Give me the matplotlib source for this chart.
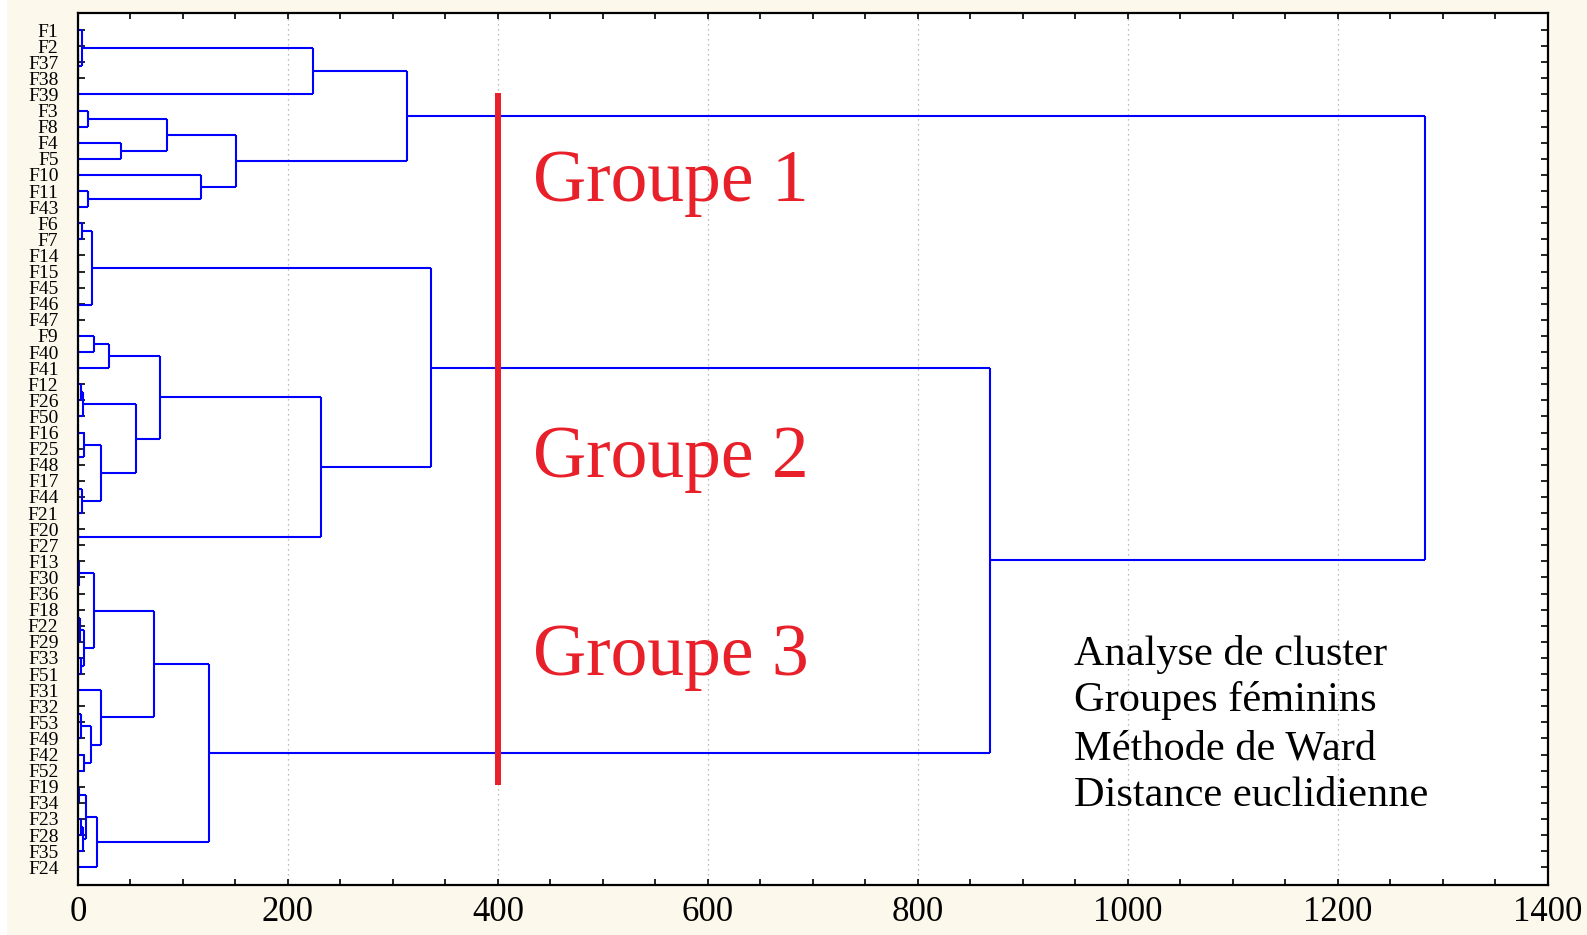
import matplotlib
matplotlib.use("Agg")
import matplotlib.pyplot as plt
from matplotlib.patches import Rectangle

# Leaf order along the tree (top to bottom)
leaves = ["F1", "F2", "F37", "F38", "F39", "F3", "F8", "F4", "F5", "F10",
          "F11", "F43", "F6", "F7", "F14", "F15", "F45", "F46", "F47", "F9",
          "F40", "F41", "F12", "F26", "F50", "F16", "F25", "F48", "F17", "F44",
          "F21", "F20", "F27", "F13", "F30", "F36", "F18", "F22", "F29", "F33",
          "F51", "F31", "F32", "F53", "F49", "F42", "F52", "F19", "F34", "F23",
          "F28", "F35", "F24"]

# Ward linkage steps: (member a, member b, linkage distance).
# A member is a leaf name or the index of an earlier step.
merges = [
    ("F2", "F37", 0.0), (0, "F38", 0.0), ("F1", 1, 4.0), (2, "F39", 223.5),
    ("F3", "F8", 9.5), ("F4", "F5", 41.0), (4, 5, 84.5), ("F11", "F43", 9.5),
    ("F10", 7, 117.0), (6, 8, 150.5), (3, 9, 313.0),
    ("F6", "F7", 4.0), ("F14", "F15", 0.0), (12, "F45", 0.0), (13, "F46", 0.0),
    (14, "F47", 0.0), (11, 15, 13.6), ("F9", "F40", 15.5), (17, "F41", 29.8),
    ("F12", "F26", 3.0), (19, "F50", 4.5), ("F25", "F48", 0.0), ("F16", 21, 5.5),
    ("F17", "F44", 0.0), (23, "F21", 4.0), (22, 24, 21.6), (20, 25, 55.0),
    (18, 26, 78.0), ("F20", "F27", 0.0), (27, 28, 231.3), (16, 29, 336.4),
    ("F30", "F36", 0.0), ("F13", 31, 1.0), ("F18", "F22", 0.5), (33, "F29", 2.0),
    ("F33", "F51", 2.5), (34, 35, 5.7), (32, 36, 15.5), ("F32", "F53", 0.5),
    (38, "F49", 3.0), ("F42", "F52", 5.7), (39, 40, 12.0), ("F31", 41, 21.6),
    (37, 42, 72.4), ("F19", "F34", 1.0), ("F23", "F28", 3.0), (45, "F35", 5.0),
    (44, 46, 7.6), (47, "F24", 17.8), (43, 48, 125.2), (30, 49, 868.4),
    (10, 50, 1283.0),
]

x_ticks = [0, 200, 400, 600, 800, 1000, 1200, 1400]
cut_distance = 400
group_labels = ["Groupe 1", "Groupe 2", "Groupe 3"]
info_lines = ["Analyse de cluster", "Groupes féminins",
              "Méthode de Ward", "Distance euclidienne"]

LINE_BLUE = "#0000ff"
RED = "#e8202a"
CREAM = "#fdf8ec"

fig = plt.figure(figsize=(15.87, 9.35), dpi=100, facecolor=CREAM)
fig.patches.append(Rectangle((0, 0), 7 / 1587, 1, transform=fig.transFigure,
                             facecolor="white", edgecolor="none", zorder=0))
ax = fig.add_axes([0.0491, 0.0535, 0.9263, 0.9326])
ax.set_facecolor("white")

# Resolve every member to its (row position, distance)
leaf_pos = {name: i for i, name in enumerate(leaves)}
nodes = []


def member(m):
    if isinstance(m, str):
        return leaf_pos[m], 0.0
    return nodes[m]


for a, b, h in merges:
    ya, ha = member(a)
    yb, hb = member(b)
    ax.plot([ha, h], [ya, ya], color=LINE_BLUE, lw=1.5, solid_capstyle="butt", zorder=2)
    ax.plot([hb, h], [yb, yb], color=LINE_BLUE, lw=1.5, solid_capstyle="butt", zorder=2)
    ax.plot([h, h], [ya, yb], color=LINE_BLUE, lw=1.5, solid_capstyle="butt", zorder=2)
    nodes.append(((ya + yb) / 2.0, h))

ax.set_xlim(0, 1400)
ax.set_ylim(len(leaves) - 1 + 1.1, -1.06)

ax.set_xticks(x_ticks)
ax.set_xticks(range(0, 1401, 50), minor=True)
ax.set_xticklabels([str(v) for v in x_ticks], fontfamily="Liberation Serif", fontsize=25)
ax.set_yticks(range(len(leaves)))
ax.set_yticklabels(leaves, fontfamily="Liberation Serif", fontsize=14)

ax.tick_params(axis="x", which="both", direction="in", length=4, width=1.2,
               top=True, pad=8)
ax.tick_params(axis="y", direction="in", length=5, width=1.2, right=True, pad=14)
ax.grid(axis="x", which="major", color="#a8a8a8", linestyle=(0, (1, 3)), lw=0.9)
ax.set_axisbelow(True)
for s in ax.spines.values():
    s.set_linewidth(1.6)
    s.set_color("black")

# Cut line and group names
ax.plot([cut_distance, cut_distance], [3.91, 46.86], color=RED, lw=4.3,
        solid_capstyle="butt", zorder=3)
for label, yb in zip(group_labels, [10.6, 27.75, 40.05]):
    ax.text(433, yb, label, color=RED, fontfamily="Liberation Serif", fontsize=53,
            va="baseline", ha="left")

for line, yb in zip(info_lines, [39.44, 42.32, 45.28, 48.17]):
    ax.text(948.6, yb, line, color="black", fontfamily="Liberation Serif",
            fontsize=30.5, va="baseline", ha="left")

fig.savefig("out.png", dpi=100, facecolor=CREAM)
